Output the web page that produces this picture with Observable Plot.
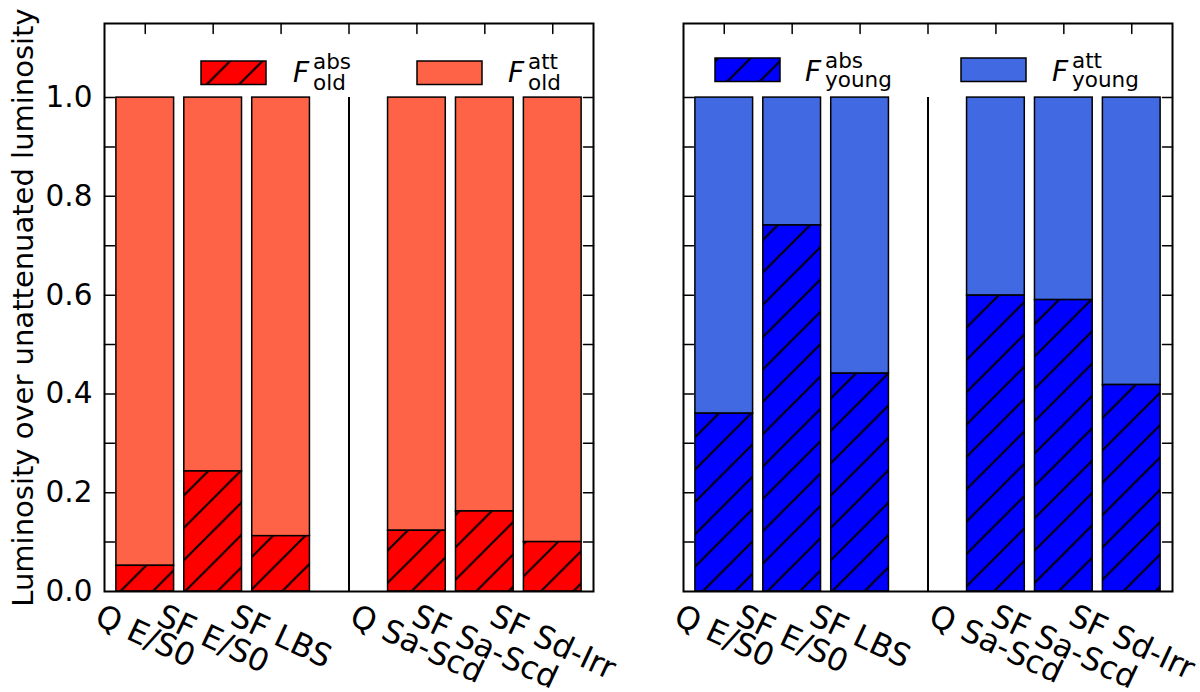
<!DOCTYPE html>
<html><head><meta charset="utf-8">
<script src="https://cdn.jsdelivr.net/npm/d3@7"></script>
<script src="https://cdn.jsdelivr.net/npm/@observablehq/plot@0.6"></script>
<style>
html,body{margin:0;padding:0;background:#fff;}
#wrap{position:relative;width:1200px;height:692px;}
#left,#right{position:absolute;top:0;width:600px;height:692px;}
#left{left:0;} #right{left:600px;}
</style></head><body>
<div id="wrap"><div id="left"></div><div id="right"></div></div>
<script>
// ---- data ----
const categories = ["Q E/S0", "SF E/S0", "SF LBS", "Q Sa-Scd", "SF Sa-Scd", "SF Sd-Irr"];
const positions = [0, 1, 2, 4, 5, 6];
const oldAbs = [0.052, 0.243, 0.112, 0.123, 0.162, 0.100];
const oldAtt = [0.948, 0.757, 0.888, 0.877, 0.838, 0.900];
const youngAbs = [0.360, 0.741, 0.441, 0.599, 0.590, 0.418];
const youngAtt = [0.640, 0.259, 0.559, 0.401, 0.410, 0.582];
const dividerPos = [3];
const topTickPositions = [0, 1, 2, 3, 4, 5, 6];
const yMajorTicks = [0.0, 0.2, 0.4, 0.6, 0.8, 1.0];
const yAllTicks = [0.1, 0.2, 0.3, 0.4, 0.5, 0.6, 0.7, 0.8, 0.9, 1.0];
const yLabel = "Luminosity over unattenuated luminosity";

// ---- style ----
const FONT = "DejaVu Sans";
const yTickFont = 29.5;
const xTickFont = 31.5;
const xTickRotate = 25;
const xDomain = [-0.6, 6.6];
const yDomain = [0, 1.15];
const barWidth = 0.85;
const H = 692, W = 600;
const hatchSpacing = 32.35;

const canvas = document.createElement("canvas");
const ctx = canvas.getContext("2d");
ctx.font = `${xTickFont}px "${FONT}"`;
const lineH = 1.164 * xTickFont;
const rot = xTickRotate * Math.PI / 180;
function labelDy(t) {
  const w = ctx.measureText(t).width;
  return 6 + (w * Math.sin(rot) + lineH * Math.cos(rot)) / 2;
}
const tickShape = {draw(context, l) { context.moveTo(0, 0); context.lineTo(0, -l); }};

function addHatch(svg, id, color, offsetX) {
  const s = hatchSpacing;
  const defs = d3.select(svg).insert("defs", ":first-child");
  const p = defs.append("pattern").attr("id", id)
    .attr("patternUnits", "userSpaceOnUse")
    .attr("width", s).attr("height", s).attr("x", offsetX).attr("y", 0);
  p.append("rect").attr("width", s).attr("height", s).attr("fill", color);
  p.append("path")
    .attr("d", `M0,${s}L${s},0M-2,2L2,-2M${s-2},${s+2}L${s+2},${s-2}`)
    .attr("stroke", "black").attr("stroke-width", 2).attr("fill", "none");
}

function addLegend(svg, items) {
  const g = d3.select(svg).append("g").attr("font-family", FONT).attr("text-anchor", "start");
  for (const it of items) {
    g.append("rect").attr("x", it.x).attr("y", it.y).attr("width", 65).attr("height", 23.5)
      .attr("fill", it.fill).attr("stroke", "black").attr("stroke-width", 1.5);
    g.append("text").attr("x", it.tx).attr("y", it.base).attr("font-size", 28)
      .attr("font-style", "italic").text("F");
    g.append("text").attr("x", it.tx + 20).attr("y", it.supBase).attr("font-size", 21.5).text(it.sup);
    g.append("text").attr("x", it.tx + 20).attr("y", it.subBase).attr("font-size", 21.5).text(it.sub);
  }
}

function panel({abs, att, absColor, attColor, hatchId, marginLeft, marginRight, showY, pageX}) {
  const rows = categories.map((c, i) => ({cat: c, pos: positions[i], abs: abs[i], att: att[i]}));
  const marks = [
    Plot.rect(rows, {x1: d => d.pos - barWidth / 2, x2: d => d.pos + barWidth / 2,
      y1: d => d.abs, y2: d => d.abs + d.att, fill: attColor, stroke: "black", strokeWidth: 1.5}),
    Plot.rect(rows, {x1: d => d.pos - barWidth / 2, x2: d => d.pos + barWidth / 2,
      y1: 0, y2: d => d.abs, fill: `url(#${hatchId})`, stroke: "black", strokeWidth: 1.5}),
    Plot.ruleX(dividerPos, {x: d => d, y1: 0, y2: 1, stroke: "black", strokeWidth: 2}),
    ...rows.map(r => Plot.text([r], {x: "pos", y: 0, text: "cat", rotate: xTickRotate,
      textAnchor: "middle", lineAnchor: "middle", dy: labelDy(r.cat),
      fontSize: xTickFont, fill: "black"})),
    Plot.vector(topTickPositions, {x: d => d, frameAnchor: "top", rotate: 180, length: 10,
      anchor: "start", shape: tickShape, stroke: "black", strokeWidth: 1.5}),
    Plot.vector(yAllTicks, {y: d => d, frameAnchor: "left", rotate: 90, length: 10,
      anchor: "start", shape: tickShape, stroke: "black", strokeWidth: 1.5}),
    Plot.vector(yAllTicks, {y: d => d, frameAnchor: "right", rotate: -90, length: 10,
      anchor: "start", shape: tickShape, stroke: "black", strokeWidth: 1.5}),
    Plot.frame({stroke: "black", strokeWidth: 2})
  ];
  if (showY) {
    marks.push(Plot.text(yMajorTicks, {y: d => d, text: d => d.toFixed(1), frameAnchor: "left",
      textAnchor: "end", lineAnchor: "middle", dx: -12, fontSize: yTickFont, fill: "black"}));
    marks.push(Plot.text([yLabel], {frameAnchor: "left", rotate: -90, dx: 32 - marginLeft,
      textAnchor: "middle", lineAnchor: "bottom", fontSize: 29, fill: "black"}));
  }
  const svg = Plot.plot({
    width: W, height: H, marginLeft, marginRight, marginTop: 23, marginBottom: 101,
    style: {fontFamily: FONT, background: "transparent", overflow: "visible"},
    x: {type: "linear", domain: xDomain, axis: null},
    y: {domain: yDomain, axis: null},
    marks
  });
  addHatch(svg, hatchId, absColor, -pageX);
  return svg;
}

const left = panel({abs: oldAbs, att: oldAtt, absColor: "#ff0000", attColor: "#ff6347",
  hatchId: "hatch-red", marginLeft: 104, marginRight: 7, showY: true, pageX: 0});
addLegend(left, [
  {x: 201, y: 61, fill: "url(#hatch-red)", tx: 293, base: 82, supBase: 69, subBase: 90, sup: "abs", sub: "old"},
  {x: 417, y: 61, fill: "#ff6347", tx: 508, base: 82, supBase: 69, subBase: 90, sup: "att", sub: "old"}
]);
document.getElementById("left").appendChild(left);

const right = panel({abs: youngAbs, att: youngAtt, absColor: "#0000ff", attColor: "#4169e1",
  hatchId: "hatch-blue", marginLeft: 83, marginRight: 28, showY: false, pageX: 600});
addLegend(right, [
  {x: 115, y: 58, fill: "url(#hatch-blue)", tx: 205, base: 81, supBase: 68, subBase: 87, sup: "abs", sub: "young"},
  {x: 361, y: 58, fill: "#4169e1", tx: 452, base: 81, supBase: 68, subBase: 87, sup: "att", sub: "young"}
]);
document.getElementById("right").appendChild(right);
</script>
</body></html>
